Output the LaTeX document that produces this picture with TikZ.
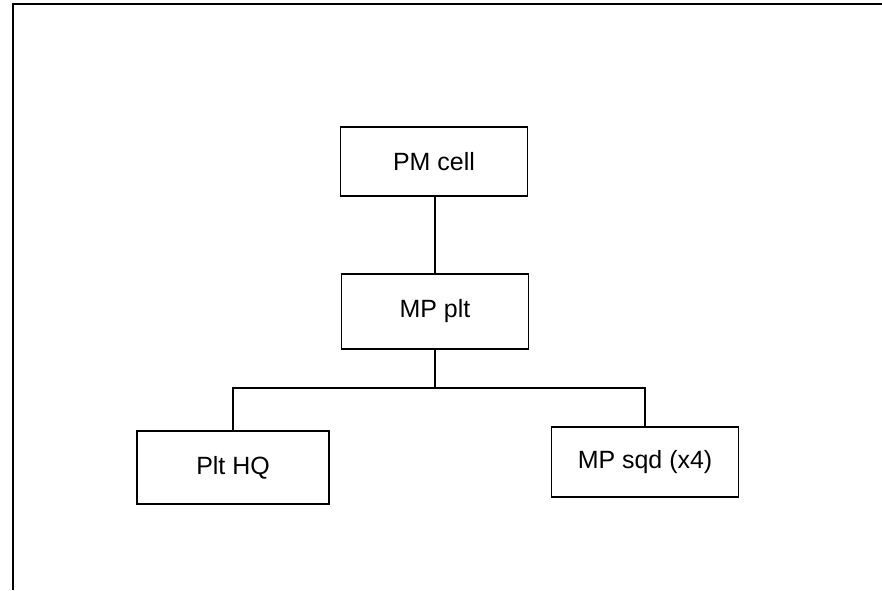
\documentclass[tikz,border=0pt]{standalone}
\usepackage{fontspec}
\setmainfont{Liberation Sans}
\usetikzlibrary{positioning}

\begin{document}
\begin{tikzpicture}[line width=.85pt,
  unit/.style={draw,rectangle,minimum width=3.74cm,minimum height=1.44cm,
    font=\fontsize{14.2}{17}\selectfont}]
\useasboundingbox (0,0) rectangle (17.64,11.8);
\coordinate (corner) at (.26,11.72);
\coordinate (top-end) at (17.64,11.72);
\coordinate (left-end) at (.26,0);
\draw[line width=1.3pt] (left-end) -- (corner) -- (top-end);
\node (pm-cell) at (8.68,8.57) [unit,minimum height=1.38cm] {PM cell};
\node (mp-plt) at (8.7,5.57) [unit,minimum height=1.5cm] {MP plt};
\node (plt-hq) at (4.66,2.45) [unit,minimum width=3.84cm,minimum height=1.46cm] {Plt HQ};
\node (mp-sqd) at (12.9,2.56) [unit,minimum height=1.4cm] {MP sqd (x4)};
\coordinate (bus) at (8.7,4.04);
\draw (pm-cell.south -| mp-plt) -- (mp-plt);
\draw (mp-plt) -- (bus);
\draw (plt-hq.north) |- (bus) -| (mp-sqd.north);
\end{tikzpicture}
\end{document}
